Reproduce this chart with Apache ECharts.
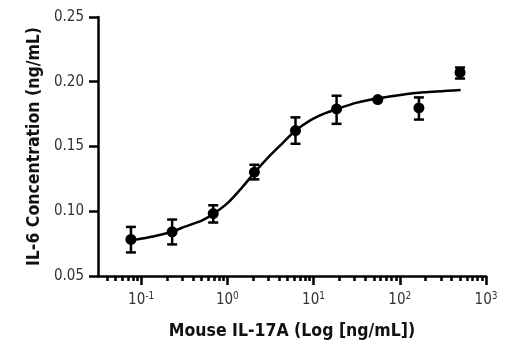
<!DOCTYPE html>
<html><head><meta charset="utf-8">
<style>html,body{margin:0;padding:0;background:#fff}#c{width:520px;height:350px}</style>
<script src="https://cdn.jsdelivr.net/npm/echarts@6/dist/echarts.min.js"></script>
</head><body><div id="c"></div>
<script>
// Data
var concentrations = [0.0762, 0.229, 0.686, 2.06, 6.17, 18.5, 55.6, 166.7, 500];
var means = [0.0782, 0.0841, 0.0982, 0.1302, 0.1623, 0.1790, 0.1862, 0.1798, 0.2072];
var errLow = [0.0682, 0.0744, 0.0913, 0.1246, 0.1521, 0.1675, 0.1855, 0.1708, 0.2025];
var errHigh = [0.0879, 0.0936, 0.1046, 0.1359, 0.1725, 0.1892, 0.1869, 0.1879, 0.2110];
var curveX = [0.0773, 0.1378, 0.2318, 0.3222, 0.5039, 0.7061, 1.027, 1.470, 2.099, 2.998, 4.292, 6.127, 9.155, 13.07, 18.71, 31.97, 57.00, 101.9, 190.1, 507.9];
var curveY = [0.0775, 0.0805, 0.0844, 0.0881, 0.0928, 0.0985, 0.1069, 0.1181, 0.1304, 0.1418, 0.1521, 0.1621, 0.1702, 0.1752, 0.1790, 0.1839, 0.1872, 0.1898, 0.1918, 0.1936];
var xMajorTicks = [0.1, 1, 10, 100, 1000];
var yTicks = [0.05, 0.10, 0.15, 0.20, 0.25];
var xTitle = 'Mouse IL-17A (Log [ng/mL])';
var yTitle = 'IL-6 Concentration (ng/mL)';

var xMin = Math.pow(10, -1.5), xMax = 1000;
var minorTicks = [];
for (var d = 0.01; d < 1000; d *= 10) {
  for (var k = 2; k <= 9; k++) {
    var v = +(k * d).toPrecision(3);
    if (v > xMin && v < xMax) minorTicks.push(v);
  }
}
var FONT = '"Liberation Sans Narrow","DejaVu Sans Condensed",sans-serif';
var chart = echarts.init(document.getElementById('c'));
var pts = concentrations.map(function (c, i) { return [c, means[i]]; });
var curve = curveX.map(function (c, i) { return [c, curveY[i]]; });
var errs = concentrations.map(function (c, i) { return [c, errLow[i], errHigh[i]]; });

chart.setOption({
  animation: false,
  grid: { left: 98, right: 34, top: 17, bottom: 74, containLabel: false },
  xAxis: [{
    type: 'log', logBase: 10, min: xMin, max: xMax,
    name: xTitle, nameLocation: 'middle', nameGap: 46,
    nameTextStyle: { fontFamily: FONT, fontWeight: 'bold', fontSize: 17.5, color: '#111' },
    axisLine: { lineStyle: { color: '#000', width: 2.5 } },
    axisTick: { show: true, inside: false, length: 9, lineStyle: { color: '#000', width: 2.5 },
      customValues: [xMin].concat(xMajorTicks) },
    axisLabel: {
      customValues: xMajorTicks, margin: 15, color: '#333', fontFamily: FONT, fontSize: 15,
      formatter: function (v) { return '10{sup|' + Math.round(Math.log10(v)) + '}'; },
      rich: { sup: { fontSize: 10, fontFamily: FONT, color: '#333', verticalAlign: 'top', padding: [0, 0, 8, 0] } }
    },
    splitLine: { show: false }
  }, {
    type: 'log', logBase: 10, min: xMin, max: xMax, gridIndex: 0, position: 'bottom',
    axisLine: { show: false },
    axisTick: { show: true, length: 5, lineStyle: { color: '#000', width: 2.5 }, customValues: minorTicks },
    axisLabel: { show: false },
    splitLine: { show: false }
  }],
  yAxis: {
    type: 'value', min: 0.05, max: 0.25, interval: 0.05,
    name: yTitle, nameLocation: 'middle', nameGap: 53,
    nameTextStyle: { fontFamily: FONT, fontWeight: 'bold', fontSize: 17.5, color: '#111' },
    axisLine: { show: true, lineStyle: { color: '#000', width: 2.5 } },
    axisTick: { show: true, length: 9, lineStyle: { color: '#000', width: 2.5 } },
    axisLabel: { margin: 14, color: '#333', fontFamily: FONT, fontSize: 15,
      formatter: function (v) { return v.toFixed(2); } },
    splitLine: { show: false }
  },
  series: [{
    type: 'line', data: curve, smooth: 0.2, showSymbol: false, symbol: 'none',
    lineStyle: { color: '#000', width: 2.5 }, z: 2
  }, {
    type: 'custom', data: errs, z: 3,
    renderItem: function (params, api) {
      var x = api.value(0);
      var lo = api.coord([x, api.value(1)]);
      var hi = api.coord([x, api.value(2)]);
      var w = 5;
      var st = { stroke: '#000', lineWidth: 2.5 };
      return { type: 'group', children: [
        { type: 'line', shape: { x1: lo[0], y1: lo[1], x2: hi[0], y2: hi[1] }, style: st },
        { type: 'line', shape: { x1: lo[0] - w, y1: lo[1], x2: lo[0] + w, y2: lo[1] }, style: st },
        { type: 'line', shape: { x1: hi[0] - w, y1: hi[1], x2: hi[0] + w, y2: hi[1] }, style: st }
      ] };
    }
  }, {
    type: 'scatter', data: pts, symbol: 'circle', symbolSize: 11,
    itemStyle: { color: '#000', opacity: 1 }, z: 4
  }]
});
</script></body></html>
